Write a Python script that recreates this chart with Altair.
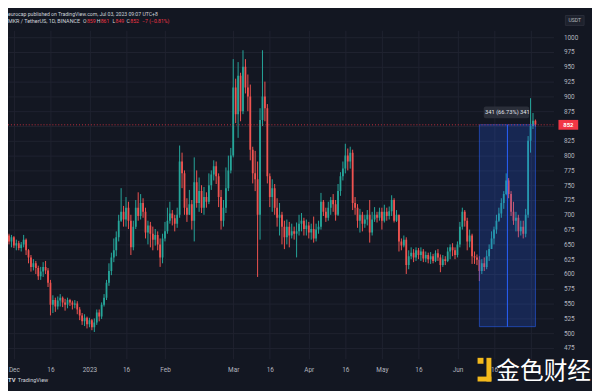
import altair as alt
import pandas as pd

# ---------------- data (MKR/USDT daily candles) ----------------
start_date = "2022-11-28"
first_open = 658

nov_close = [665, 655, 662]
nov_high = [672, 668, 666]
nov_low = [648, 650, 645]

dec_close = [648, 652, 644, 650, 658, 640, 628, 612, 618, 610, 596, 604, 612, 606, 585, 548,
             556, 545, 555, 560, 552, 548, 556, 552, 548, 550, 540, 530, 520, 526, 515]
dec_high = [664, 658, 656, 654, 666, 660, 642, 632, 625, 622, 614, 612, 620, 622, 610, 590,
            564, 560, 562, 566, 562, 558, 560, 558, 555, 556, 554, 544, 534, 532, 528]
dec_low = [644, 640, 640, 638, 645, 632, 618, 604, 606, 600, 590, 590, 595, 600, 578, 530,
           534, 536, 540, 545, 544, 538, 542, 546, 540, 542, 532, 522, 514, 512, 508]

jan_close = [522, 510, 518, 535, 528, 548, 560, 585, 605, 628, 640, 662, 690, 705, 692, 712,
             690, 645, 680, 712, 698, 720, 705, 670, 682, 668, 658, 666, 650, 628, 660]
jan_high = [526, 524, 525, 540, 540, 552, 566, 590, 618, 636, 660, 672, 700, 745, 715, 730,
            722, 700, 690, 725, 738, 735, 728, 712, 690, 688, 680, 676, 672, 660, 668]
jan_low = [510, 505, 502, 514, 520, 524, 545, 556, 580, 598, 620, 630, 655, 688, 680, 680,
           676, 632, 640, 676, 690, 692, 695, 660, 650, 645, 640, 648, 640, 612, 618]

feb_close = [672, 690, 702, 694, 685, 700, 790, 770, 712, 700, 718, 690, 755, 720,
             740, 712, 730, 722, 750, 768, 782, 765, 730, 690, 712, 745, 775, 800]
feb_high = [688, 712, 722, 708, 700, 712, 817, 805, 775, 728, 742, 725, 797, 775,
            763, 750, 747, 738, 770, 775, 792, 790, 770, 742, 725, 780, 800, 813]
feb_low = [655, 668, 685, 682, 672, 678, 695, 745, 700, 688, 700, 675, 655, 712,
           705, 703, 700, 712, 718, 742, 758, 752, 713, 675, 680, 703, 740, 770]

mar_close = [915, 870, 935, 875, 950, 915, 900, 810, 770, 760, 700, 860, 900, 880, 765, 730,
             745, 712, 695, 700, 680, 662, 680, 665, 672, 668, 672, 685, 690, 676, 682]
mar_high = [963, 930, 958, 940, 978, 963, 937, 920, 815, 808, 790, 880, 978, 925, 887, 770,
            760, 752, 728, 720, 705, 690, 692, 688, 685, 680, 687, 700, 703, 695, 692]
mar_low = [797, 855, 830, 858, 870, 905, 875, 792, 753, 740, 595, 658, 850, 858, 753, 713,
           705, 700, 680, 665, 650, 642, 650, 645, 660, 658, 628, 665, 672, 665, 665]

apr_close = [670, 676, 660, 675, 680, 722, 705, 695, 712, 725, 718, 700, 740, 765, 778,
             800, 790, 805, 720, 712, 690, 700, 685, 692, 700, 670, 692, 700, 695, 705]
apr_high = [688, 685, 697, 685, 690, 737, 725, 712, 722, 730, 735, 725, 752, 772, 790,
            820, 812, 815, 810, 730, 718, 710, 705, 700, 708, 725, 705, 713, 705, 712]
apr_low = [660, 658, 653, 655, 668, 675, 698, 688, 690, 700, 705, 690, 698, 732, 758,
           770, 775, 778, 708, 700, 678, 670, 672, 678, 682, 653, 665, 688, 687, 690]

may_close = [690, 705, 698, 706, 725, 690, 700, 655, 648, 658, 615, 630, 636, 628, 640, 632,
             638, 626, 632, 625, 630, 622, 635, 628, 615, 625, 622, 638, 645, 640, 632]
may_high = [712, 717, 712, 714, 733, 728, 708, 700, 660, 665, 662, 640, 645, 642, 645, 644,
            645, 642, 638, 636, 637, 634, 640, 642, 633, 632, 630, 645, 650, 652, 645]
may_low = [675, 687, 690, 692, 698, 687, 688, 638, 640, 645, 600, 608, 625, 620, 622, 625,
           622, 620, 620, 618, 617, 618, 620, 622, 603, 612, 615, 620, 625, 630, 625]

jun_close = [650, 680, 705, 690, 655, 665, 630, 628, 624, 605, 618, 612, 630, 642, 660,
             675, 690, 702, 720, 735, 758, 735, 705, 690, 695, 672, 680, 668, 700, 825]
jun_high = [655, 688, 712, 708, 695, 675, 668, 638, 633, 630, 625, 628, 640, 650, 672,
            680, 700, 712, 728, 740, 770, 762, 740, 722, 705, 700, 690, 690, 710, 833]
jun_low = [628, 645, 675, 680, 640, 645, 617, 617, 615, 588, 600, 605, 608, 622, 645,
           650, 668, 688, 695, 710, 733, 728, 698, 683, 672, 662, 665, 660, 662, 695]

jul_close = [850, 859, 852]
jul_high = [897, 872, 861]
jul_low = [805, 845, 849]

# price-range drawing (341 (66.73%))
range_start = ["2023-06-10"]
range_end = ["2023-07-03"]
range_mid = ["2023-06-21T12:00:00Z"]
range_low = [511]
range_high = [852]
range_label = ["341 (66.73%) 341"]

last_price = [852]

x_tick_dates = ["2022-12-01", "2022-12-16", "2023-01-01", "2023-01-16", "2023-02-01",
                "2023-03-01", "2023-03-16", "2023-04-01", "2023-04-16", "2023-05-01",
                "2023-05-16", "2023-06-01", "2023-06-16", "2023-07-01"]
x_tick_labels = ["Dec", "16", "2023", "16", "Feb", "Mar", "16", "Apr", "16", "May",
                 "16", "Jun", "16", ""]
y_ticks = [475, 500, 525, 550, 575, 600, 625, 650, 675, 700, 725, 750,
           775, 800, 825, 850, 875, 900, 925, 950, 975, 1000]
y_hidden_label = 850  # covered by the last-price tag

# ---------------- table ----------------
closes = nov_close + dec_close + jan_close + feb_close + mar_close + apr_close + may_close + jun_close + jul_close
highs = nov_high + dec_high + jan_high + feb_high + mar_high + apr_high + may_high + jun_high + jul_high
lows = nov_low + dec_low + jan_low + feb_low + mar_low + apr_low + may_low + jun_low + jul_low
dates = pd.date_range(start_date, periods=len(closes), freq="D").strftime("%Y-%m-%d")
# daily crypto candles open at the previous day's close
opens = [first_open] + closes[:-1]
df = pd.DataFrame({"date": dates, "open": opens, "high": highs, "low": lows, "close": closes})

# ---------------- style ----------------
BG = "#131722"
GRID = "#1f2330"
TXT = "#b2b5be"
GREEN = "#26a69a"
RED = "#ef5350"
LRED = "#f23645"
BLUE = "#2962ff"
FONT = "Roboto"

tick_ts = [int(pd.Timestamp(d, tz="UTC").value // 10**6) for d in x_tick_dates]
label_expr = ("[" + ",".join("'" + s + "'" for s in x_tick_labels) + "][indexof(["
              + ",".join(str(t) for t in tick_ts) + "], time(datum.value))]")
y_label_expr = f"datum.value == {y_hidden_label} ? '' : format(datum.value, 'd')"

x_scale = alt.Scale(type="utc", domain=[
    alt.DateTime(year=2022, month=11, date=30, hours=14, minutes=28, utc=True),
    alt.DateTime(year=2023, month=7, date=8, hours=9, minutes=36, utc=True)])
y_scale = alt.Scale(domain=[456.67, 1011.67], nice=False, zero=False)

x_axis = alt.Axis(values=tick_ts, labelExpr=label_expr, grid=True, gridColor=GRID,
                  ticks=False, tickSize=0, domain=False, labelColor=TXT, labelFontSize=6.5,
                  labelFont=FONT, labelPadding=8, labelFlush=False, labelOverlap=False, title=None)
y_axis = alt.Axis(orient="right", values=y_ticks, labelExpr=y_label_expr, grid=True,
                  gridColor=GRID, ticks=False, tickSize=0, domain=False, labelColor=TXT,
                  labelFontSize=6.5, labelFont=FONT, labelPadding=10, labelAlign="left",
                  labelOverlap=False, labelFlush=False, labelSeparation=0, title=None)


def X(field):
    return alt.X(field, scale=x_scale, axis=x_axis)


def Y(field):
    return alt.Y(field, scale=y_scale, axis=y_axis)


color = alt.condition("datum.close >= datum.open", alt.value(GREEN), alt.value(RED))
base = alt.Chart(df)
wicks = base.mark_rule(strokeWidth=1, clip=True).encode(
    x=X("date:T"), y=Y("low:Q"), y2="high:Q", color=color)
bodies = base.mark_bar(width=1.8, clip=True).encode(
    x=X("date:T"), y=Y("open:Q"), y2="close:Q", color=color)

rdf = pd.DataFrame({"start": range_start, "end": range_end, "mid": range_mid,
                    "low": range_low, "high": range_high, "label": range_label})
rng = alt.Chart(rdf)
box = rng.mark_rect(fill=BLUE, fillOpacity=0.22, stroke=BLUE, strokeOpacity=0.55, strokeWidth=1).encode(
    x=X("start:T"), x2="end:T", y=Y("low:Q"), y2="high:Q")
midline = rng.mark_rule(color=BLUE, strokeWidth=1).encode(
    x=X("mid:T"), y=Y("low:Q"), y2="high:Q")

# label of the range drawing, placed via the scales around the range midpoint
lab_df = pd.DataFrame({"x1": ["2023-06-11T19:00:00Z"], "x2": ["2023-06-30T10:00:00Z"],
                       "y1": [863], "y2": [883], "mid": range_mid, "yc": [873], "label": range_label})
lab = alt.Chart(lab_df)
lab_box = lab.mark_rect(fill="#2a2e39", cornerRadius=2).encode(
    x=X("x1:T"), x2="x2:T", y=Y("y1:Q"), y2="y2:Q")
lab_txt = lab.mark_text(color="#e0e3eb", fontSize=5.8, font=FONT).encode(
    x=X("mid:T"), y=Y("yc:Q"), text="label:N")

pdf = pd.DataFrame({"p": last_price, "lo": [843.7], "hi": [860.3], "t": ["852"]})
pl = alt.Chart(pdf)
price_line = pl.mark_rule(color=LRED, strokeDash=[1, 2], strokeWidth=1, opacity=0.8).encode(
    y=Y("p:Q"))
price_box = pl.mark_rect(color=LRED).encode(
    x=alt.value(558), x2=alt.value(578), y=Y("hi:Q"), y2="lo:Q")
price_txt = pl.mark_text(color="white", fontSize=6, font=FONT, fontWeight="bold").encode(
    x=alt.value(568), y=Y("p:Q"), text="t:N")

one = pd.DataFrame({"k": [0]})


def txt(s, x, y, size=5.2, color="#d1d4dc", align="left", weight="normal", font=FONT):
    return alt.Chart(one).mark_text(text=s, align=align, baseline="middle", fontSize=size,
                                    color=color, fontWeight=weight, font=font).encode(
        x=alt.value(x), y=alt.value(y))


def box_px(x, x2, y, y2, color, **kw):
    return alt.Chart(one).mark_rect(color=color, **kw).encode(
        x=alt.value(x), x2=alt.value(x2), y=alt.value(y), y2=alt.value(y2))


header = [
    txt("eurocap published on TradingView.com, Jul 03, 2023 09:07 UTC+8", 0, -17, size=5.2),
    txt("MKR / TetherUS, 1D, BINANCE", 0, -9, size=5.5),
    txt("O", 76, -9), txt("859", 80, -9, color=LRED),
    txt("H", 90, -9), txt("861", 94, -9, color=LRED),
    txt("L", 106, -9), txt("849", 109, -9, color=LRED),
    txt("C", 120, -9), txt("852", 124, -9, color=LRED),
    txt("\u22127 (\u22120.81%)", 136, -9, color=LRED),
    box_px(565, 584, -15, -5, "#1e222d", stroke="#2a2e39"),
    txt("USDT", 574.5, -10, size=5.2, color=TXT, align="center"),
    txt("TV", 0, 355, size=6, color="#d1d4dc", weight="bold"),
    txt("TradingView", 10, 355, size=5.6, color="#d1d4dc"),
]

logo = [
    box_px(476, 482, 332, 338, "#f3b91c"),
    box_px(485, 490, 332, 356, "#f3b91c"),
    box_px(476, 490, 351, 356, "#f3b91c"),
    txt("金色财经", 543, 346, size=24, color="#ffffff", align="center", font="Noto Sans CJK SC"),
]

chart = alt.layer(
    wicks, bodies, box, midline, price_line, lab_box, lab_txt, price_box, price_txt,
    *header, *logo
).properties(
    width=553, height=333,
    autosize=alt.AutoSizeParams(type="none"),
    padding={"left": 0, "top": 20, "right": 39, "bottom": 30},
).configure(background=BG).configure_view(stroke=None).configure_axis(
    labelOverlap=False
)

chart.save("out.html", embed_options={"renderer": "svg", "actions": False})
